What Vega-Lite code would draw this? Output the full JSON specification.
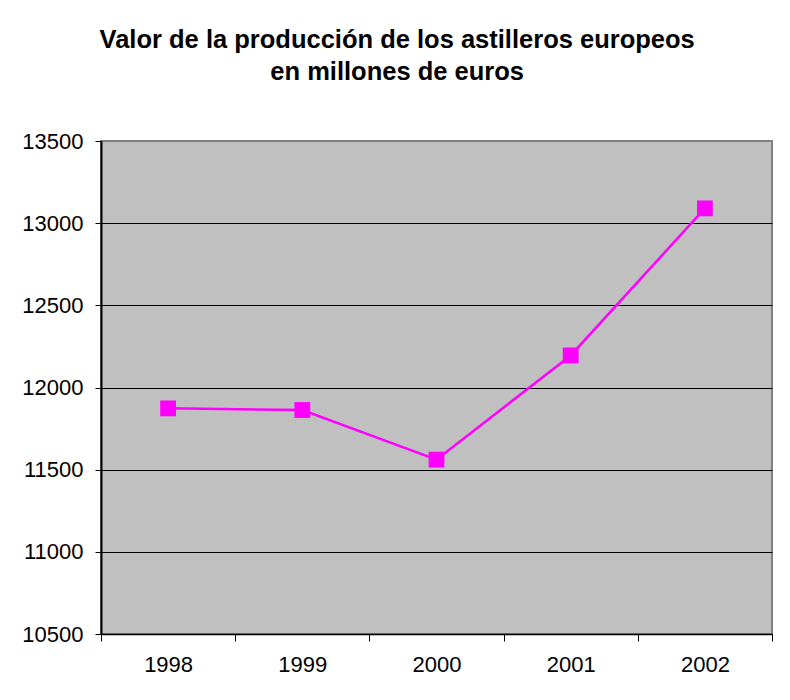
{
  "$schema": "https://vega.github.io/schema/vega-lite/v6.json",
  "width": 671,
  "height": 493,
  "autosize": {"type": "none"},
  "padding": {"left": 101, "top": 141, "right": 18, "bottom": 66},
  "background": "white",
  "title": {
    "text": ["Valor de la producción de los astilleros europeos", "en millones de euros"],
    "font": "Liberation Sans",
    "fontSize": 25.5,
    "fontWeight": "bold",
    "lineHeight": 32,
    "color": "black",
    "anchor": "middle",
    "frame": "bounds",
    "offset": 45
  },
  "data": {
    "values": [
      {"year": "1998", "value": 11873},
      {"year": "1999", "value": 11863},
      {"year": "2000", "value": 11561},
      {"year": "2001", "value": 12195},
      {"year": "2002", "value": 13090}
    ]
  },
  "mark": {
    "type": "line",
    "color": "#FF00FF",
    "strokeWidth": 2.5,
    "point": {"shape": "square", "size": 250, "filled": true, "color": "#FF00FF", "opacity": 1}
  },
  "encoding": {
    "x": {
      "field": "year",
      "type": "ordinal",
      "scale": {"type": "band", "paddingInner": 0, "paddingOuter": 0},
      "axis": {
        "title": null,
        "labelAngle": 0,
        "tickBand": "extent",
        "tickSize": 7,
        "tickColor": "black",
        "domainColor": "black",
        "domainWidth": 1.5,
        "labelFont": "Liberation Sans",
        "labelFontSize": 22,
        "labelColor": "black",
        "labelPadding": 13,
        "grid": false
      }
    },
    "y": {
      "field": "value",
      "type": "quantitative",
      "scale": {"domain": [10500, 13500], "nice": false, "zero": false},
      "axis": {
        "title": null,
        "values": [10500, 11000, 11500, 12000, 12500, 13000, 13500],
        "format": "d",
        "tickSize": 6,
        "tickColor": "black",
        "domainColor": "black",
        "domainWidth": 2,
        "grid": true,
        "gridColor": {"condition": {"test": "datum.value === 13500", "value": "#808080"}, "value": "black"},
        "gridWidth": 1,
        "gridOpacity": 1,
        "labelFont": "Liberation Sans",
        "labelFontSize": 22,
        "labelColor": "black",
        "labelPadding": 12
      }
    }
  },
  "config": {
    "view": {"fill": "#C0C0C0", "stroke": "#808080", "strokeWidth": 2}
  }
}
